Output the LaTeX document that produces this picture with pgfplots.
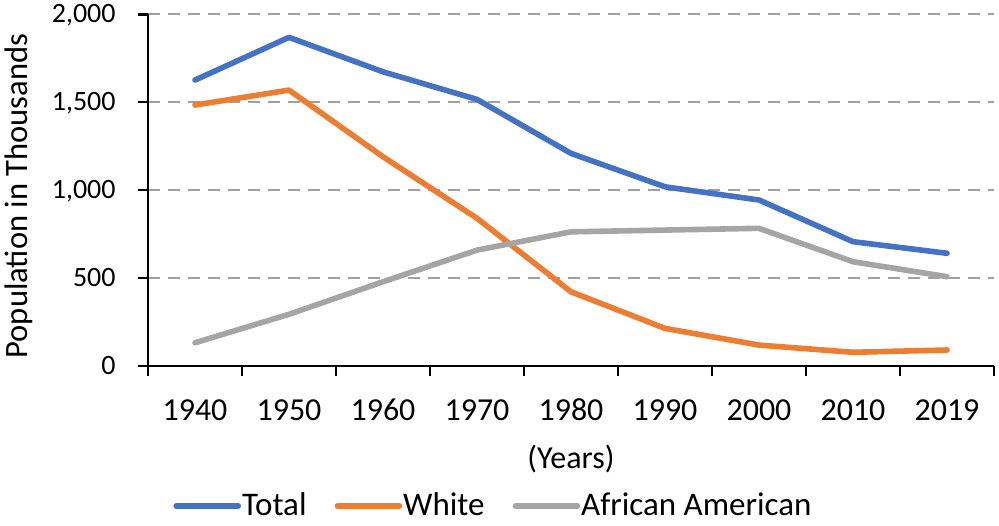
\documentclass[border=0pt]{standalone}
\usepackage{pgfplots}
\pgfplotsset{compat=1.18}
\usepackage{fontspec}
\setmainfont{Carlito}
\definecolor{cTotal}{HTML}{4472C4}
\definecolor{cWhite}{HTML}{ED7D31}
\definecolor{cAA}{HTML}{A5A5A5}
\definecolor{cGrid}{RGB}{160,160,160}
\begin{document}
\begin{tikzpicture}
\path[use as bounding box] (-74pt,-79.5pt) rectangle (425.5pt,183pt);
\begin{axis}[
  at={(0,0)}, anchor=south west,
  scale only axis, width=423pt, height=175.85pt,
  xmin=-0.5, xmax=8.5, ymin=0, ymax=2000,
  axis lines=left, axis line style={black, line width=1.2pt, -},
  tick align=outside,
  xtick={0,...,8},
  xticklabels={1940,1950,1960,1970,1980,1990,2000,2010,2019},
  minor xtick={-0.5,0.5,...,8.5},
  major x tick style={draw=none},
  minor x tick style={black, line width=1.2pt},
  minor tick length=5pt,
  ytick={0,500,1000,1500,2000},
  yticklabels={0,500,{1,000},{1,500},{2,000}},
  major y tick style={black, line width=1.2pt},
  major tick length=5pt,
  ymajorgrids=true,
  grid style={cGrid, line width=1pt, dash pattern=on 6pt off 4pt},
  xticklabel style={font=\fontsize{16}{19}\selectfont, anchor=base, inner sep=0pt, yshift=-22.2pt},
  yticklabel style={font=\fontsize{14}{17}\selectfont, anchor=base east, inner sep=0pt, xshift=-11pt, yshift=-4.2pt},
  xlabel={(Years)},
  xlabel style={font=\fontsize{16}{19}\selectfont, at={(axis description cs:0.5,-0.2644)}, anchor=center},
  ylabel={Population in Thousands},
  ylabel style={font=\fontsize{16.3}{19}\selectfont, at={(axis description cs:-0.153,0.4834)}, anchor=center, rotate=0},
  legend columns=3,
  legend style={draw=none, fill=none, inner sep=0pt, font=\fontsize{16.5}{19}\selectfont,
    at={(axis description cs:0.0296,-0.398)}, anchor=west,
    nodes={inner sep=0pt},
    /tikz/every odd column/.append style={column sep=0.5pt},
    /tikz/every even column/.append style={column sep=14pt}},
  legend cell align=left,
  legend image code/.code={\draw[#1] (0pt,0pt) -- (31pt,0pt);},
  every axis plot/.append style={line width=2.8pt, line cap=round, line join=round},
]
\addplot[cTotal] coordinates {(0,1626) (1,1869) (2,1673) (3,1516) (4,1209) (5,1019) (6,944) (7,707) (8,641)};
\addlegendentry{Total}
\addplot[cWhite] coordinates {(0,1484) (1,1569) (2,1190) (3,840) (4,422) (5,214) (6,119) (7,78) (8,91)};
\addlegendentry{White}
\addplot[cAA] coordinates {(0,132) (1,294) (2,479) (3,659) (4,763) (5,773) (6,783) (7,593) (8,508)};
\addlegendentry{African American}
\end{axis}
\end{tikzpicture}
\end{document}
